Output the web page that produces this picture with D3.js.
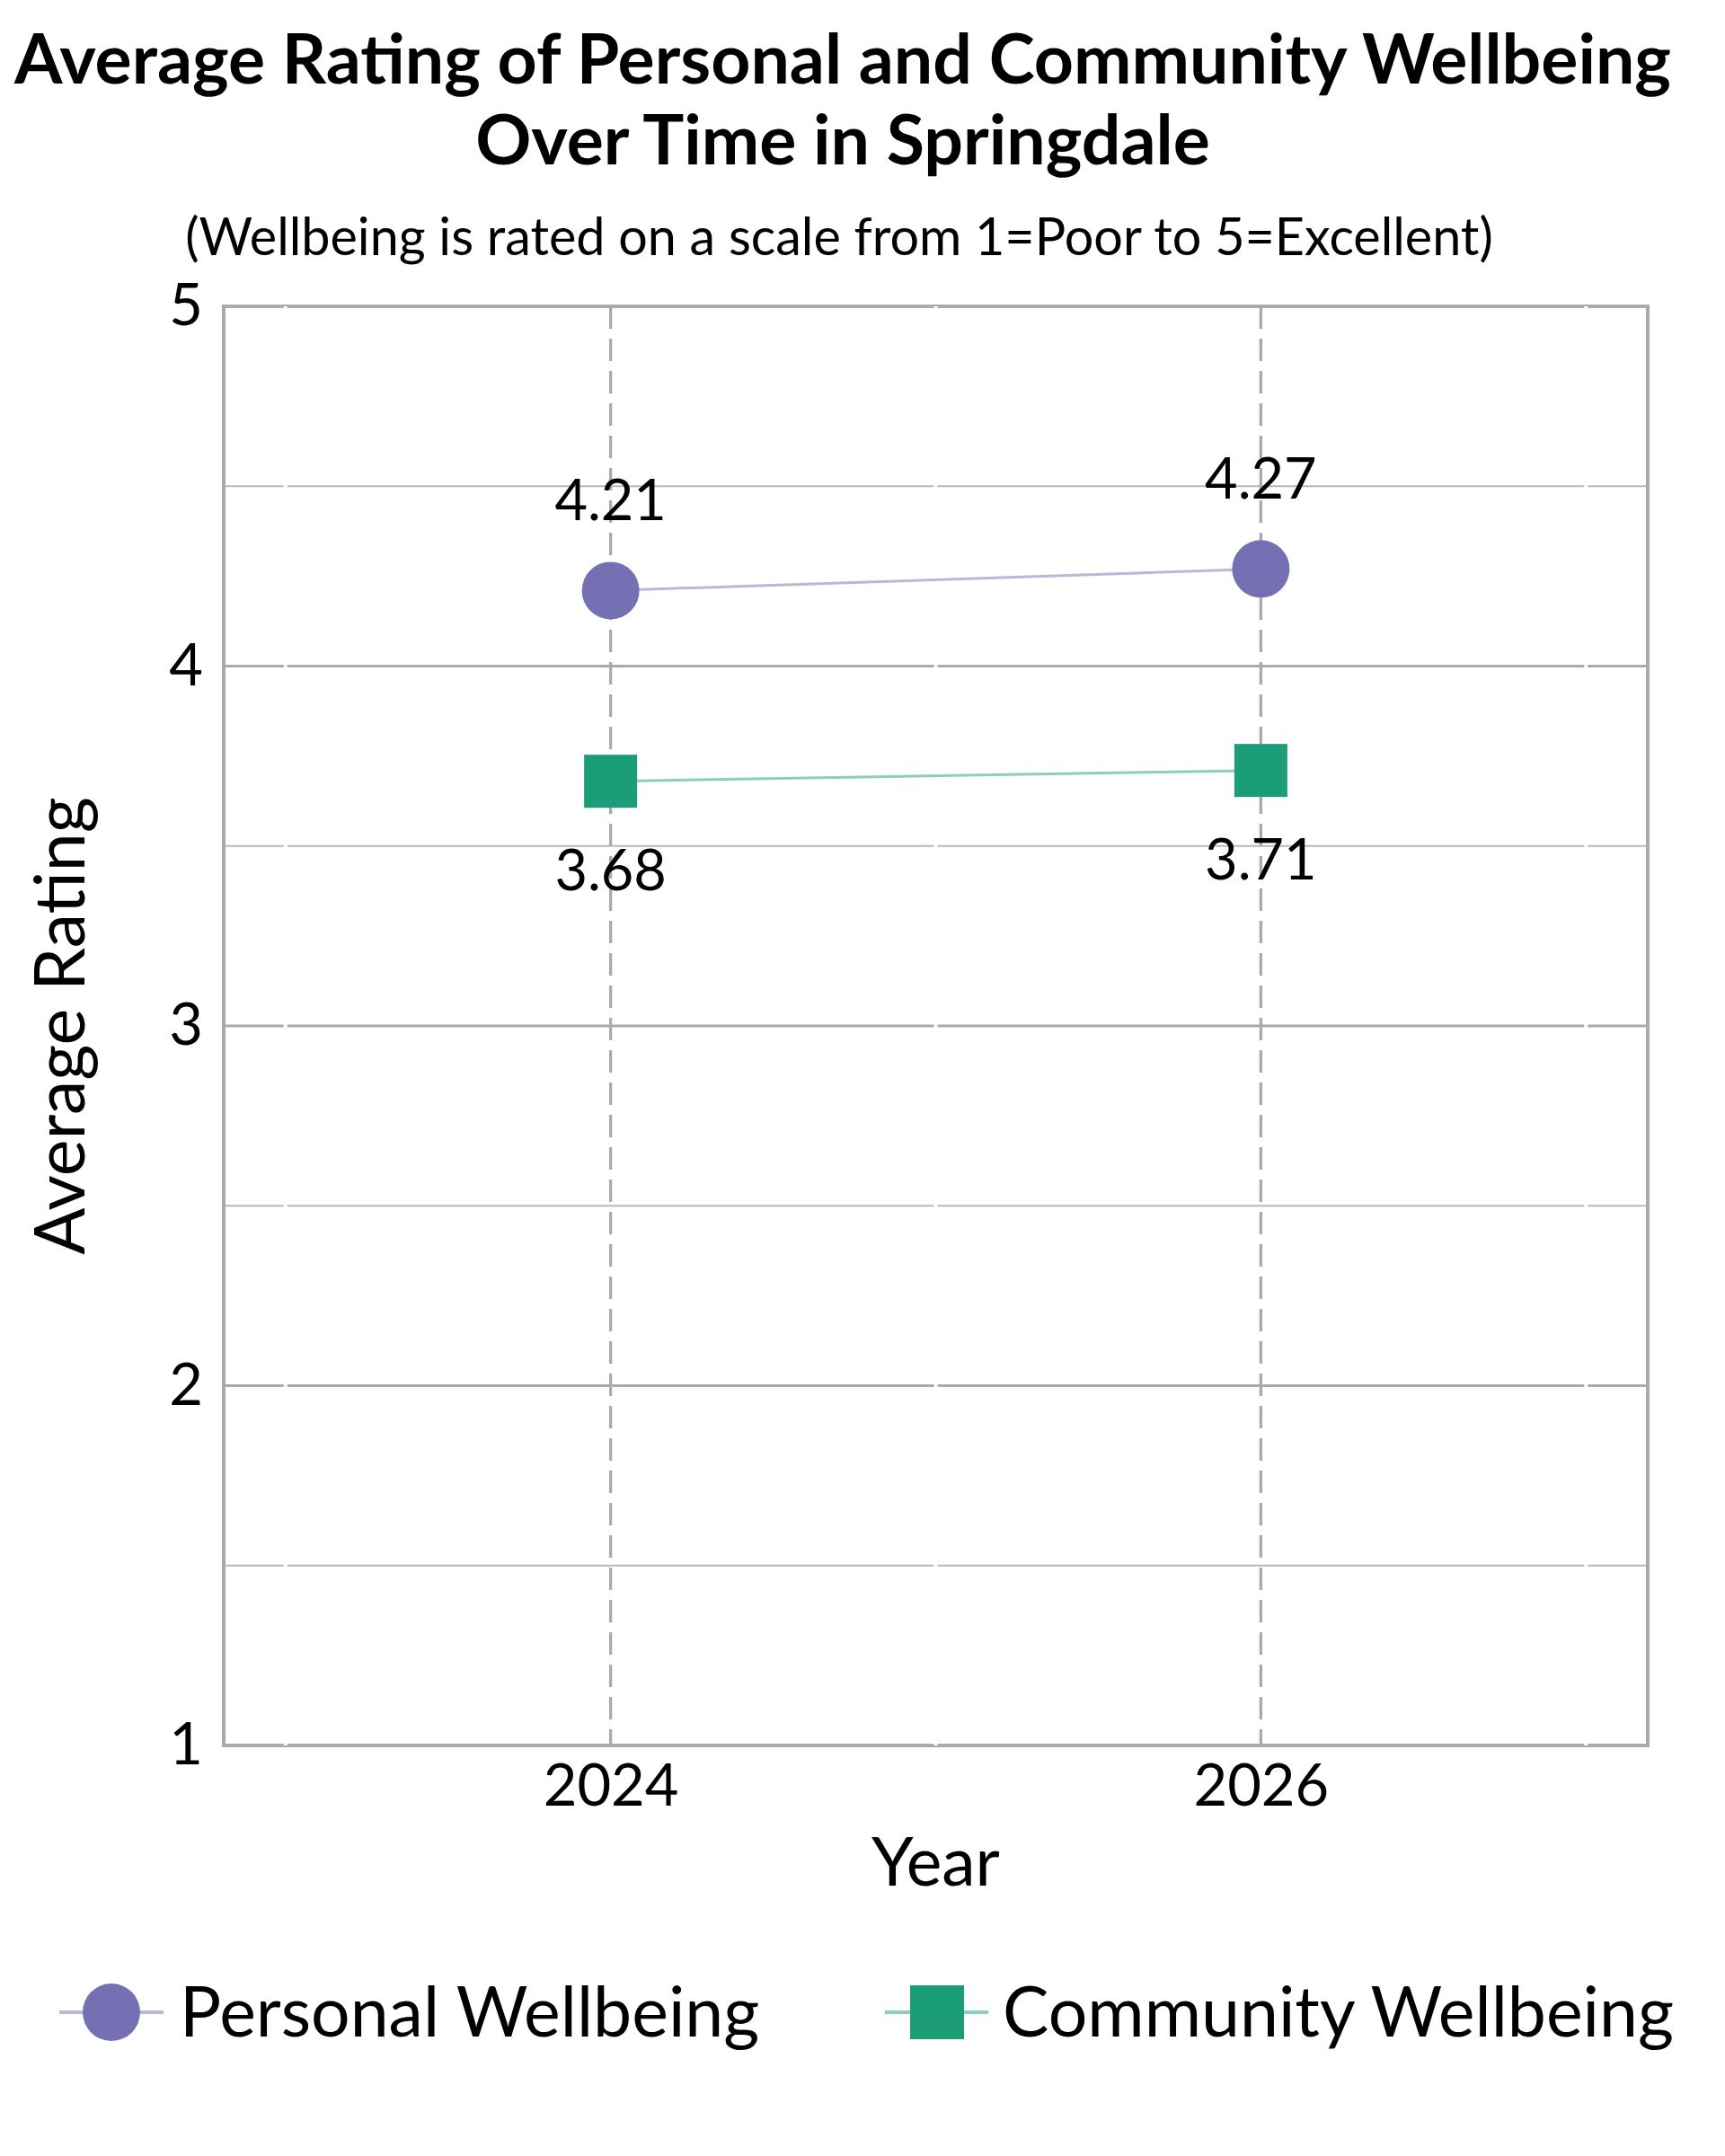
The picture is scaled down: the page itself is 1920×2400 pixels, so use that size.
<!DOCTYPE html>
<html>
<head>
<meta charset="utf-8">
<script src="https://cdn.jsdelivr.net/npm/d3@7"></script>
<style>
  body { margin: 0; background: #fff; }
  text { font-family: Lato, "Open Sans", sans-serif; fill: #000; }
</style>
</head>
<body>
<script>
// data
const years = [2024, 2026];
const personal = [4.21, 4.27];
const community = [3.68, 3.71];
const yTicks = [1, 2, 3, 4, 5];
const yMinor = [1.5, 2.5, 3.5, 4.5];
const oddYears = [2023, 2025, 2027];
const seriesNames = ["Personal Wellbeing", "Community Wellbeing"];

const w = 1920;
const h = 2400;
const plot = { left: 249, right: 1834, top: 341, bottom: 1943 };

const svg = d3.select("body")
  .append("svg")
  .attr("width", w)
  .attr("height", h);

const x = d3.scaleLinear()
  .domain([2022.81, 2027.19])
  .range([plot.left, plot.right]);

const y = d3.scaleLinear()
  .domain([1, 5])
  .range([plot.bottom, plot.top]);

// titles
svg.append("text")
  .attr("x", 938).attr("y", 93)
  .attr("text-anchor", "middle")
  .style("font-size", "77px").style("font-weight", "bold")
  .text("Average Rating of Personal and Community Wellbeing");
svg.append("text")
  .attr("x", 938).attr("y", 183)
  .attr("text-anchor", "middle")
  .style("font-size", "77px").style("font-weight", "bold")
  .text("Over Time in Springdale");
svg.append("text")
  .attr("x", 934).attr("y", 284)
  .attr("text-anchor", "middle")
  .style("font-size", "57.5px")
  .text("(Wellbeing is rated on a scale from 1=Poor to 5=Excellent)");

// grid
const grid = svg.append("g");
grid.selectAll(".minor")
  .data(yMinor)
  .enter()
  .append("line")
  .attr("x1", plot.left).attr("x2", plot.right)
  .attr("y1", d => y(d)).attr("y2", d => y(d))
  .attr("stroke", "#b8b8b8").attr("stroke-width", 2);
grid.selectAll(".major")
  .data(yTicks)
  .enter()
  .append("line")
  .attr("x1", plot.left).attr("x2", plot.right)
  .attr("y1", d => y(d)).attr("y2", d => y(d))
  .attr("stroke", "#aaaaaa").attr("stroke-width", 3);
grid.selectAll(".vdash")
  .data(years)
  .enter()
  .append("line")
  .attr("x1", d => x(d)).attr("x2", d => x(d))
  .attr("y1", plot.top).attr("y2", plot.bottom)
  .attr("stroke", "#aaaaaa").attr("stroke-width", 3.3)
  .attr("stroke-dasharray", "25,11");

// frame
svg.append("rect")
  .attr("x", plot.left).attr("y", plot.top)
  .attr("width", plot.right - plot.left)
  .attr("height", plot.bottom - plot.top)
  .attr("fill", "none")
  .attr("stroke", "#aaaaaa").attr("stroke-width", 4);

// white grid lines at the odd years, on top of the frame
svg.append("g").selectAll("line")
  .data(oddYears)
  .enter()
  .append("line")
  .attr("x1", d => x(d)).attr("x2", d => x(d))
  .attr("y1", plot.top).attr("y2", plot.bottom)
  .attr("stroke", "#ffffff").attr("stroke-width", 4);

// axes
const yAxis = svg.append("g")
  .attr("transform", `translate(${plot.left},0)`)
  .call(d3.axisLeft(y).tickValues(yTicks).tickSize(0).tickPadding(23).tickFormat(d3.format("d")));
const xAxis = svg.append("g")
  .attr("transform", `translate(0,${plot.bottom})`)
  .call(d3.axisBottom(x).tickValues(years).tickSize(0).tickPadding(21).tickFormat(d3.format("d")));
[yAxis, xAxis].forEach(a => {
  a.select(".domain").remove();
  a.selectAll("text").style("font-size", "65px").attr("fill", "#000")
    .style("font-family", "Lato, sans-serif");
});

svg.append("text")
  .attr("x", (plot.left + plot.right) / 2).attr("y", 2099)
  .attr("text-anchor", "middle")
  .style("font-size", "75px")
  .text("Year");
svg.append("text")
  .attr("transform", `translate(94,${(plot.top + plot.bottom) / 2}) rotate(-90)`)
  .attr("text-anchor", "middle")
  .style("font-size", "77px")
  .text("Average Rating");

// series
const purple = "#7570b3";
const green = "#1b9e77";
const pData = years.map((yr, i) => ({ yr, v: personal[i] }));
const cData = years.map((yr, i) => ({ yr, v: community[i] }));
const line = d3.line().x(d => x(d.yr)).y(d => y(d.v));

svg.append("path").datum(pData).attr("d", line)
  .attr("fill", "none").attr("stroke", purple).attr("stroke-opacity", 0.5).attr("stroke-width", 3);
svg.append("path").datum(cData).attr("d", line)
  .attr("fill", "none").attr("stroke", green).attr("stroke-opacity", 0.5).attr("stroke-width", 3);

svg.selectAll(".pt-p")
  .data(pData)
  .enter()
  .append("circle")
  .attr("cx", d => x(d.yr)).attr("cy", d => y(d.v))
  .attr("r", 32).attr("fill", purple);

const sq = 59;
svg.selectAll(".pt-c")
  .data(cData)
  .enter()
  .append("rect")
  .attr("x", d => x(d.yr) - sq / 2).attr("y", d => y(d.v) - sq / 2)
  .attr("width", sq).attr("height", sq).attr("fill", green);

svg.selectAll(".lab-p")
  .data(pData)
  .enter()
  .append("text")
  .attr("x", d => x(d.yr)).attr("y", d => y(d.v) - 78)
  .attr("text-anchor", "middle")
  .style("font-size", "63px")
  .text(d => d.v.toFixed(2));
svg.selectAll(".lab-c")
  .data(cData)
  .enter()
  .append("text")
  .attr("x", d => x(d.yr)).attr("y", d => y(d.v) + 121)
  .attr("text-anchor", "middle")
  .style("font-size", "63px")
  .text(d => d.v.toFixed(2));

// legend
const legY = 2240;
const leg = svg.append("g");
leg.append("line").attr("x1", 66).attr("x2", 182).attr("y1", legY).attr("y2", legY)
  .attr("stroke", purple).attr("stroke-opacity", 0.5).attr("stroke-width", 4);
leg.append("circle").attr("cx", 124).attr("cy", legY).attr("r", 32).attr("fill", purple);
leg.append("text").attr("x", 200).attr("y", 2267)
  .style("font-size", "77px").text(seriesNames[0]);

leg.append("line").attr("x1", 985).attr("x2", 1100).attr("y1", legY).attr("y2", legY)
  .attr("stroke", green).attr("stroke-opacity", 0.5).attr("stroke-width", 4);
leg.append("rect").attr("x", 1043 - 30).attr("y", legY - 30).attr("width", 60).attr("height", 60)
  .attr("fill", green);
leg.append("text").attr("x", 1116).attr("y", 2267)
  .style("font-size", "77px").text(seriesNames[1]);
</script>
</body>
</html>
